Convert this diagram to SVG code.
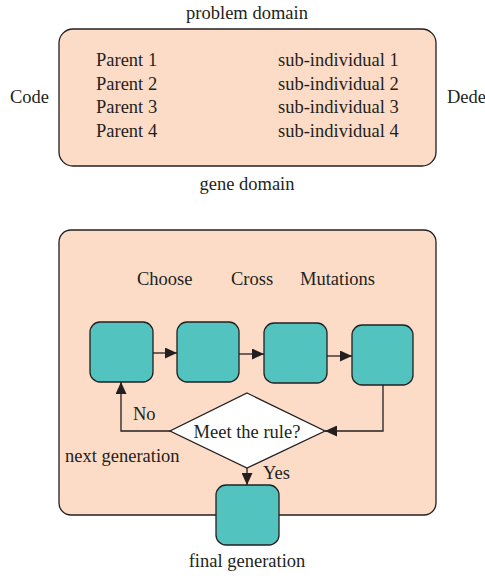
<svg xmlns="http://www.w3.org/2000/svg" width="485" height="576" viewBox="0 0 485 576">
<defs>
<style>
text{font-family:"Liberation Serif","Times New Roman",serif;font-size:18.5px;fill:#231F20}
.panel{fill:#FCDCC7;stroke:#231F20;stroke-width:1.3}
.box{fill:#52C3BE;stroke:#231F20;stroke-width:1.3}
.dia{fill:#FFFFFF;stroke:#231F20;stroke-width:1.3}
.c{text-anchor:middle}
.ln{fill:none;stroke:#231F20;stroke-width:1.3}
</style>
<marker id="ah" viewBox="0 0 12 11" refX="12" refY="5.5" markerWidth="12" markerHeight="11" markerUnits="userSpaceOnUse" orient="auto">
<path d="M0,0 L12,5.5 L0,11 Z" fill="#231F20"/>
</marker>
</defs>
<g id="top-panel">
<rect class="panel" x="59" y="29" width="377" height="137" rx="14"/>
<text x="96" y="66">Parent 1</text>
<text x="96" y="89.5">Parent 2</text>
<text x="96" y="113">Parent 3</text>
<text x="96" y="137">Parent 4</text>
<text x="278" y="66">sub-individual 1</text>
<text x="278" y="89.5">sub-individual 2</text>
<text x="278" y="113">sub-individual 3</text>
<text x="278" y="137">sub-individual 4</text>
</g>
<g id="top-labels">
<text class="c" x="247" y="19">problem domain</text>
<text class="c" x="247" y="190">gene domain</text>
<text x="10" y="103">Code</text>
<text x="447" y="103">Dede</text>
</g>
<g id="bottom-panel">
<rect class="panel" x="59" y="230" width="377" height="285" rx="12"/>
<text x="137" y="285">Choose</text>
<text x="231" y="285">Cross</text>
<text x="300" y="285">Mutations</text>
</g>
<g id="box1"><rect class="box" x="90" y="322" width="63" height="60" rx="10"/></g>
<g id="box2"><rect class="box" x="177" y="322" width="62" height="60" rx="10"/></g>
<g id="box3"><rect class="box" x="264" y="323" width="63" height="60" rx="10"/></g>
<g id="box4"><rect class="box" x="352" y="325" width="61" height="60" rx="10"/></g>
<g id="decision">
<polygon class="dia" points="247,393 325,431 247,468 170,431"/>
<text class="c" x="247" y="438">Meet the rule?</text>
</g>
<g id="final-box">
<rect class="box" x="216" y="485" width="63" height="60" rx="10"/>
<text class="c" x="247" y="567">final generation</text>
</g>
<g id="connectors">
<line class="ln" x1="153" y1="353" x2="177" y2="353" marker-end="url(#ah)"/>
<line class="ln" x1="239" y1="354" x2="264" y2="354" marker-end="url(#ah)"/>
<line class="ln" x1="327" y1="356" x2="352" y2="356" marker-end="url(#ah)"/>
<polyline class="ln" points="383,385 383,431 325,431" marker-end="url(#ah)"/>
<polyline class="ln" points="170,431 121,431 121,382" marker-end="url(#ah)"/>
<line class="ln" x1="247" y1="468" x2="247" y2="485" marker-end="url(#ah)"/>
<text x="133" y="420">No</text>
<text x="65" y="462">next generation</text>
<text x="263" y="479">Yes</text>
</g>
</svg>
